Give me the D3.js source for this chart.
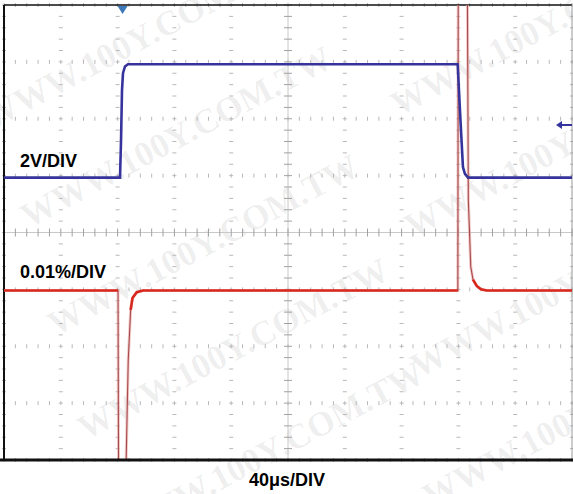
<!DOCTYPE html>
<html>
<head>
<meta charset="utf-8">
<script src="https://cdn.jsdelivr.net/npm/d3@7"></script>
<style>
  body { margin: 0; background: #fff; }
  svg { display: block; }
</style>
</head>
<body>
<svg id="scope" width="573" height="494"></svg>
<script>
// time in microseconds (40us/DIV, 10 divisions), level in divisions from screen centre
const blueT = [0, 81.7, 82.4, 83.1, 83.8, 85.2, 87.3, 319.5, 321.1, 323.2, 324.6, 326.8, 400]
const blueV = [0.965, 0.965, 1.6, 2.5, 2.8, 2.92, 2.958, 2.958, 2.15, 1.15, 1.03, 0.965, 0.965]

const redT = [0, 80.3, 80.7, 85.7, 87.5, 89.2, 90.5, 93.5, 97.9, 319.6, 319.9, 326.3, 327.0, 328.7, 330.3, 332.9, 335.9, 340, 400]
const redV = [-1.02, -1.02, -4.4, -4.4, -2.24, -1.36, -1.15, -1.05, -1.02, -1.02, 4.4, 4.4, 0.57, -0.6, -0.83, -0.94, -1.0, -1.02, -1.02]

const labels = ['2V/DIV', '0.01%/DIV', '40\u03bcs/DIV']
const watermark = 'WWW.100Y.COM.TW'
const triggerT = 83.5
const refLevel = 1.89

let svg = d3.select('#scope')
let x = d3.scaleLinear().domain([0, 400]).range([4, 572])
let y = d3.scaleLinear().domain([-4, 4]).range([460, 5])

// watermarks
let marks = [[140, 42], [178, 140], [205, 248], [235, 352], [270, 455], [548, 28], [562, 150], [568, 290], [580, 420]]
svg.append('g')
    .selectAll('text')
    .data(marks)
    .join('text')
    .attr('transform', d => `translate(${d[0]},${d[1]})rotate(-28)`)
    .attr('text-anchor', 'middle')
    .attr('dominant-baseline', 'middle')
    .attr('font-family', 'Liberation Serif, serif')
    .attr('font-weight', 'bold')
    .attr('font-size', 35)
    .attr('fill', '#000')
    .attr('fill-opacity', 0.07)
    .text(watermark)

// grid
let grid = svg.append('g')
let minorX = d3.range(0, 401, 8)
let minorY = d3.range(-4, 4.01, 0.2)
d3.range(0, 401, 40).forEach(t => {
    let centre = t === 200
    if (centre) {
        grid.append('line')
            .attr('x1', x(t)).attr('x2', x(t)).attr('y1', y(4)).attr('y2', y(-4))
            .attr('stroke', '#c8c8c8')
    }
    grid.selectAll(null)
        .data(minorY)
        .join('line')
        .attr('x1', x(t) - (centre ? 4 : 2)).attr('x2', x(t) + (centre ? 4 : 2))
        .attr('y1', d => y(d)).attr('y2', d => y(d))
        .attr('stroke', centre ? '#a0a0a0' : '#b8b8b8')
})
d3.range(-4, 4.01, 1).forEach(v => {
    let centre = v === 0
    if (centre) {
        grid.append('line')
            .attr('x1', x(0)).attr('x2', x(400)).attr('y1', y(v)).attr('y2', y(v))
            .attr('stroke', '#c8c8c8')
    }
    grid.selectAll(null)
        .data(minorX)
        .join('line')
        .attr('y1', y(v) - (centre ? 4 : 2)).attr('y2', y(v) + (centre ? 4 : 2))
        .attr('x1', d => x(d)).attr('x2', d => x(d))
        .attr('stroke', centre ? '#a0a0a0' : '#b8b8b8')
})

// frame
svg.append('line').attr('x1', x(0)).attr('x2', x(400)).attr('y1', y(4)).attr('y2', y(4))
    .attr('stroke', '#111').attr('stroke-width', 1.5)
svg.append('line').attr('x1', x(0)).attr('x2', x(0)).attr('y1', y(4)).attr('y2', y(-4))
    .attr('stroke', '#111').attr('stroke-width', 2)
svg.append('line').attr('x1', x(400)).attr('x2', x(400)).attr('y1', y(4)).attr('y2', y(-4))
    .attr('stroke', '#999').attr('stroke-width', 1)

svg.append('clipPath').attr('id', 'screen')
    .append('rect')
    .attr('x', x(0)).attr('y', y(4))
    .attr('width', x(400) - x(0)).attr('height', y(-4) - y(4))

let traces = svg.append('g').attr('clip-path', 'url(#screen)')

let red = redT.map((t, i) => [t, redV[i]])
let blue = blueT.map((t, i) => [t, blueV[i]])

let line = d3.line().x(d => x(d[0])).y(d => y(d[1]))

// fast parts of the red trace are drawn thin and dim
traces.append('path')
    .attr('d', line(red))
    .attr('fill', 'none')
    .attr('stroke', '#e8a8a8')
    .attr('stroke-width', 3)
    .attr('stroke-opacity', 0.6)
traces.append('path')
    .attr('d', line(red))
    .attr('fill', 'none')
    .attr('stroke', '#a84a4a')
    .attr('stroke-width', 1.1)
traces.append('path')
    .attr('d', line.defined(d => d[1] > -1.4 && d[1] < -0.7)(red))
    .attr('fill', 'none')
    .attr('stroke', '#d8281e')
    .attr('stroke-width', 2.6)
line.defined(() => true)

traces.append('path')
    .attr('d', line(blue))
    .attr('fill', 'none')
    .attr('stroke', '#36349c')
    .attr('stroke-width', 2.6)

// trigger and reference markers
svg.append('path')
    .attr('d', `M${x(triggerT) - 5},${y(4) + 1}L${x(triggerT) + 5},${y(4) + 1}L${x(triggerT)},${y(4) + 9}Z`)
    .attr('fill', '#3d78b8')
svg.append('path')
    .attr('d', `M${x(400)},${y(refLevel)}L${x(400) - 12},${y(refLevel)}`)
    .attr('stroke', '#36349c').attr('stroke-width', 2)
svg.append('path')
    .attr('d', `M${x(400) - 16},${y(refLevel)}L${x(400) - 10},${y(refLevel) - 4}L${x(400) - 10},${y(refLevel) + 4}Z`)
    .attr('fill', '#36349c')

// bottom edge
svg.append('line').attr('x1', 0).attr('x2', 573).attr('y1', y(-4)).attr('y2', y(-4))
    .attr('stroke', '#111').attr('stroke-width', 3)

// labels
let font = 'Liberation Sans, Arial, sans-serif'
svg.append('text').attr('x', 20).attr('y', 167).text(labels[0])
    .attr('font-family', font).attr('font-weight', 'bold').attr('font-size', 18)
svg.append('text').attr('x', 20).attr('y', 278).text(labels[1])
    .attr('font-family', font).attr('font-weight', 'bold').attr('font-size', 18)
svg.append('text').attr('x', 287).attr('y', 486).attr('text-anchor', 'middle').text(labels[2])
    .attr('font-family', font).attr('font-weight', 'bold').attr('font-size', 18)
</script>
</body>
</html>
